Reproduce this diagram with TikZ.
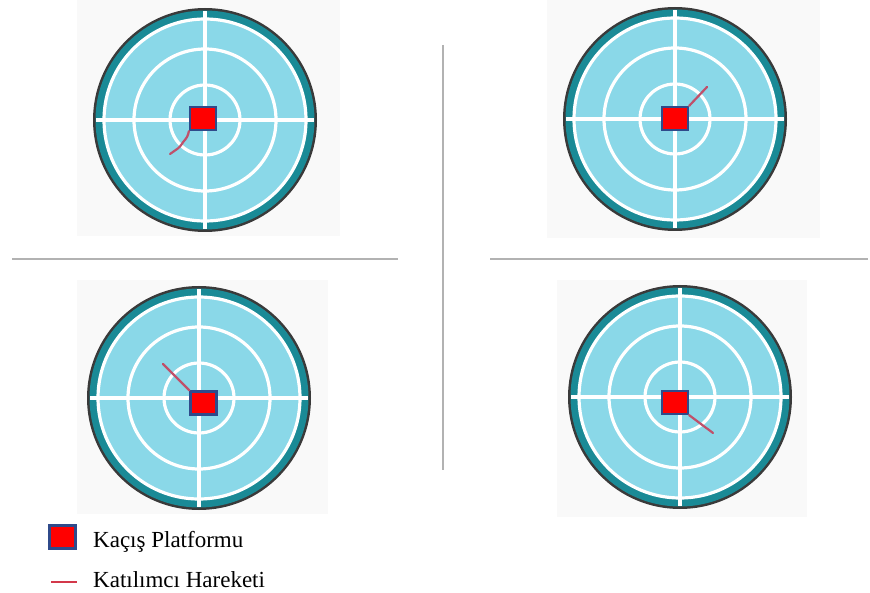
\documentclass[tikz,border=0pt]{standalone}
\usepackage{fontspec}
\setmainfont{Liberation Serif}
\usepackage{tikz}
\usetikzlibrary{calc}
\definecolor{rimgray}{HTML}{3A3A3A}
\definecolor{bandteal}{HTML}{1A8A96}
\definecolor{water}{HTML}{8AD8E8}
\definecolor{platred}{HTML}{FF0000}
\definecolor{platblue}{HTML}{2F4A8A}
\definecolor{swim}{HTML}{C0506A}
\definecolor{panelbg}{HTML}{F9F9F9}
\tikzset{>=latex, panel/.style={fill=panelbg},
  grid/.style={draw=white,line width=3.2pt},
  platform/.style={draw=platblue,fill=platred,line width=2.2pt,
    minimum width=26pt,minimum height=23pt,inner sep=0pt},
  swimpath/.style={draw=swim,line width=2.2pt,line cap=round,rounded corners=3pt},
  divider/.style={draw=black!30,line width=1.2pt},
  legtext/.style={anchor=base west,inner sep=0pt,font=\fontsize{23}{27}\selectfont},
  pool/.pic={
    \fill[rimgray] (0,0) circle (112pt);
    \fill[bandteal] (0,0) circle (109.5pt);
    \fill[water] (0,0) circle (102pt);
    \draw[grid] (0,0) circle (101pt) (0,0) circle (71pt) (0,0) circle (35pt);
    \draw[grid] (-109pt,0) -- (109pt,0) (0,-109pt) -- (0,109pt);
  }}

\begin{document}
\begin{tikzpicture}[x=1pt,y=-1pt]
  \useasboundingbox (0,0) rectangle (870,593);
  % panels
  \fill[panel] (77,0) rectangle (340,236);
  \fill[panel] (547,0) rectangle (820,238);
  \fill[panel] (77,280) rectangle (328,514);
  \fill[panel] (557,280) rectangle (807,517);
  \pic at (205,120) {pool};
  \pic at (675,119) {pool};
  \pic at (199,398) {pool};
  \pic at (680,397) {pool};
  % platforms
  \node[platform] (s1) at (203,118.5) {};
  \node[platform] (s2) at (675,118.5) {};
  \node[platform] (s3) at (203.5,403) {};
  \node[platform] (s4) at (675,402.5) {};
  % swim paths
  \coordinate (t1) at (170,154);
  \coordinate (t2) at (707,87);
  \coordinate (t3) at (163,364);
  \coordinate (t4) at (713,433);
  \draw[swimpath] (s1.south west) -- (187.5,137) -- (183,142) -- (180,147) -- (175,150.5) -- (t1);
  \draw[swimpath] (s2.north east) -- (t2);
  \draw[swimpath] (s3.north west) -- (t3);
  \draw[swimpath] (s4.south east) -- (t4);
  % dividers
  \draw[divider] (12,259) -- (398,259);
  \draw[divider] (490,259) -- (868,259);
  \draw[divider] (443,45) -- (443,470);
  % legend
  \node[platform] (key) at (62.5,537) {};
  \node[legtext] (keytext) at (93,547) {Kaçış Platformu};
  \coordinate (ka) at (51,582);
  \coordinate (kb) at (77,582);
  \draw[swimpath,draw=swim!70!red,line width=2.6pt,line cap=butt] (ka) -- (kb);
  \node[legtext] (linetext) at (93,587) {Katılımcı Hareketi};
\end{tikzpicture}
\end{document}
